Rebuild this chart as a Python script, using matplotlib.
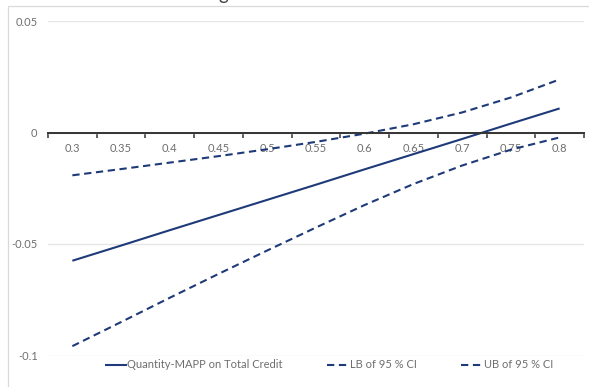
import matplotlib
matplotlib.use("Agg")
import matplotlib.pyplot as plt
from matplotlib.patches import Rectangle

plt.rcParams["font.family"] = ["Lato", "DejaVu Sans"]

# Marginal effect of Quantity-MAPP on total credit with its 95 % confidence bounds
categories = ["0.3", "0.35", "0.4", "0.45", "0.5", "0.55", "0.6", "0.65", "0.7", "0.75", "0.8"]
effect = [-0.0575, -0.0507, -0.0438, -0.0370, -0.0302, -0.0234, -0.0165, -0.0097, -0.0029, 0.0040, 0.0108]
lower = [-0.0958, -0.0850, -0.0741, -0.0634, -0.0529, -0.0426, -0.0325, -0.0231, -0.0148, -0.0077, -0.0022]
upper = [-0.0192, -0.0164, -0.0135, -0.0106, -0.0075, -0.0042, -0.0005, 0.0037, 0.0090, 0.0157, 0.0238]
y_ticks = [-0.1, -0.05, 0, 0.05]
y_labels = ["-0.1", "-0.05", "0", "0.05"]
series_names = ["Quantity-MAPP on Total Credit", "LB of 95 % CI", "UB of 95 % CI"]

W, H = 589, 387
fig = plt.figure(figsize=(W / 100, H / 100), dpi=100)
fig.patch.set_facecolor("white")

# chart frame
fig.add_artist(Rectangle((8 / W, -0.2), 1.2, 1.2 - 6 / H, transform=fig.transFigure,
                         fill=False, edgecolor="#d9d9d9", linewidth=0.9))
fig.text(223 / W, 1 - 0.3 / H, "g", ha="center", va="baseline", fontsize=13.5, color="#404040")

left, right = 48 / W, 584 / W
top, bottom = 1 - 21 / H, 1 - 355.5 / H
ax = fig.add_axes([left, bottom, right - left, top - bottom])

x = list(range(len(categories)))
navy = "#1f3a78"
ax.plot(x, effect, color=navy, lw=1.5, label=series_names[0], solid_capstyle="butt")
ax.plot(x, lower, color=navy, lw=1.5, dashes=(3.5, 2.2), label=series_names[1])
ax.plot(x, upper, color=navy, lw=1.5, dashes=(3.5, 2.2), label=series_names[2])

ax.set_xlim(-0.5, len(categories) - 0.5)
ax.set_ylim(-0.1, 0.05)

for side in ["top", "right", "left"]:
    ax.spines[side].set_visible(False)
ax.spines["bottom"].set_position(("data", 0))
ax.spines["bottom"].set_color("#333333")
ax.spines["bottom"].set_linewidth(1.4)

ax.set_xticks(x)
ax.set_xticklabels(categories)
ax.set_xticks([i - 0.5 for i in range(len(categories) + 1)], minor=True)
ax.tick_params(axis="x", which="major", length=0, pad=7.5, labelsize=8, labelcolor="#6e6e6e")
ax.tick_params(axis="x", which="minor", length=3.5, width=1.1, color="#333333", direction="out")

ax.set_yticks(y_ticks)
ax.set_yticklabels(y_labels)
ax.tick_params(axis="y", length=0, pad=7.5, labelsize=8, labelcolor="#6e6e6e")
ax.yaxis.grid(True, color="#e6e6e6", linewidth=1.0)
ax.set_axisbelow(True)

leg = ax.legend(loc="center", bbox_to_anchor=(329 / W, 1 - 365 / H), bbox_transform=fig.transFigure,
                ncol=3, frameon=False, fontsize=8, handlelength=2.0, handletextpad=0.05,
                columnspacing=4.0, borderaxespad=0)
for t in leg.get_texts():
    t.set_color("#6e6e6e")

fig.savefig("out.png", dpi=100, facecolor="white")
